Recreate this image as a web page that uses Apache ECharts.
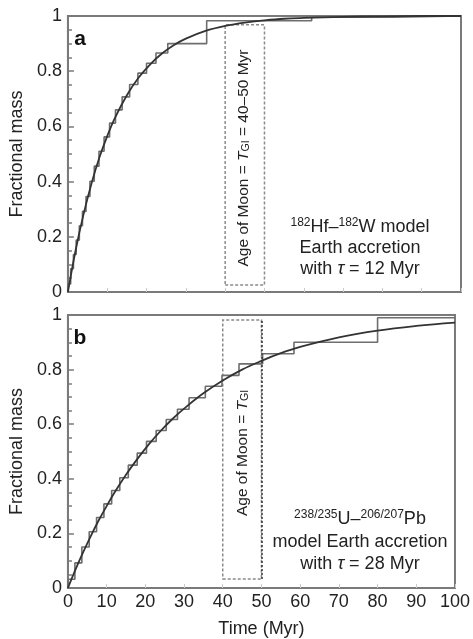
<!DOCTYPE html>
<html><head><meta charset="utf-8">
<script src="https://cdn.jsdelivr.net/npm/echarts@6/dist/echarts.min.js"></script>
<style>html,body{margin:0;padding:0;background:#fff}#c{width:473px;height:639px}</style>
</head><body><div id="c"></div>
<script>
// Smooth accretion curves
const curveTimes = [0, 2, 4, 6, 8, 10, 12, 15, 18, 21, 24, 27, 30, 35, 40, 45, 50, 55, 60, 70, 80, 90, 100];
const curveA = [0, 0.154, 0.283, 0.393, 0.487, 0.565, 0.632, 0.713, 0.777, 0.826, 0.865, 0.895, 0.918, 0.946, 0.964, 0.976, 0.984, 0.990, 0.993, 0.997, 0.999, 1.0, 1.0];
const curveB = [0, 0.069, 0.133, 0.193, 0.249, 0.300, 0.349, 0.415, 0.474, 0.528, 0.576, 0.619, 0.657, 0.713, 0.760, 0.800, 0.832, 0.860, 0.883, 0.918, 0.943, 0.960, 0.972];

// Step (discrete impact) models: jump times and levels after each jump
const stepTimesA = [0, 0, 0.7, 1.4, 2.1, 2.9, 3.7, 4.6, 5.6, 6.7, 7.9, 9.2, 10.6, 12.1, 13.8, 15.7, 17.8, 20.0, 22.4, 25.4, 35.3, 62, 83, 100];
const stepLevelsA = [0, 0.029, 0.084, 0.136, 0.188, 0.240, 0.292, 0.346, 0.401, 0.456, 0.510, 0.562, 0.612, 0.660, 0.707, 0.752, 0.793, 0.829, 0.866, 0.900, 0.983, 0.996, 1.0, 1.0];
const stepTimesB = [0, 0, 1.8, 3.6, 5.5, 7.4, 9.3, 11.3, 13.4, 15.6, 17.9, 20.3, 22.8, 25.4, 28.3, 31.3, 35.5, 39.8, 44.2, 50.3, 58.4, 80, 100];
const stepLevelsB = [0, 0.032, 0.092, 0.150, 0.206, 0.258, 0.308, 0.357, 0.404, 0.450, 0.494, 0.537, 0.577, 0.617, 0.655, 0.697, 0.739, 0.779, 0.821, 0.858, 0.900, 0.990, 0.990];

// Age-of-Moon windows [xmin, xmax, ymin, ymax]
const boxA = [40, 50, 0.025, 0.968];
const boxB = [40, 50, 0.033, 0.982];

const xTicks = [0, 10, 20, 30, 40, 50, 60, 70, 80, 90, 100];

const zip = (a, b) => a.map((v, i) => [v, b[i]]);
const FONT = '"Liberation Sans", Arial, Helvetica, sans-serif';
const AX = '#7a7a7a';

function xAxis(gi, showLabels) {
  return {
    gridIndex: gi, type: 'value', min: 0, max: 100, interval: 10,
    axisLine: { show: true, lineStyle: { color: AX, width: 2 } },
    axisTick: { show: true, inside: true, length: 4, lineStyle: { color: '#ccc' } },
    minorTick: { show: false },
    splitLine: { show: false },
    axisLabel: { show: showLabels, fontFamily: FONT, fontSize: 18, color: '#222', margin: 5,
      formatter: v => xTicks.indexOf(v) >= 0 ? String(v) : '' },
    name: showLabels ? 'Time (Myr)' : '', nameLocation: 'middle', nameGap: 32,
    nameTextStyle: { fontFamily: FONT, fontSize: 18, color: '#222' }
  };
}
function yAxis(gi) {
  return {
    gridIndex: gi, type: 'value', min: 0, max: 1, interval: 0.2,
    axisLine: { show: true, lineStyle: { color: AX, width: 2 } },
    axisTick: { show: true, inside: true, length: 6, lineStyle: { color: AX, width: 1.5 } },
    minorTick: { show: true, splitNumber: 4, length: 4, lineStyle: { color: AX, width: 1.5 } },
    splitLine: { show: false },
    axisLabel: { fontFamily: FONT, fontSize: 18, color: '#222', margin: 6 },
    name: 'Fractional mass', nameLocation: 'middle', nameGap: 35,
    nameTextStyle: { fontFamily: FONT, fontSize: 18, color: '#222' }
  };
}
function box(b) {
  return {
    silent: true,
    itemStyle: { color: 'rgba(0,0,0,0)', borderColor: '#8a8a8a', borderWidth: 1.5, borderType: [3, 2] },
    data: [[{ xAxis: b[0], yAxis: b[2] }, { xAxis: b[1], yAxis: b[3] }]]
  };
}

const rich = {
  sup: { fontFamily: FONT, fontSize: 12, color: '#222', padding: [0, 0, 8, 0] },
  n: { fontFamily: FONT, fontSize: 18, color: '#222' },
  it: { fontFamily: FONT, fontSize: 18, fontStyle: 'italic', color: '#222' },
  vn: { fontFamily: FONT, fontSize: 15.5, color: '#222' },
  vit: { fontFamily: FONT, fontSize: 15.5, fontStyle: 'italic', color: '#222' },
  vsub: { fontFamily: FONT, fontSize: 10.5, color: '#222', padding: [5, 0, 0, 0] }
};
function txt(x, y, text, opts) {
  return Object.assign({ type: 'text', x: x, y: y, style: {
    text: text, rich: rich, align: 'center', verticalAlign: 'middle', fill: '#222', font: '18px ' + FONT } }, opts || {});
}

const chart = echarts.init(document.getElementById('c'), null, { renderer: 'canvas' });
chart.setOption({
  backgroundColor: '#fff',
  animation: false,
  grid: [
    { left: 64, top: 16, width: 397, height: 276, show: true, borderColor: AX, borderWidth: 2 },
    { left: 64, top: 315, width: 394, height: 274, show: true, borderColor: AX, borderWidth: 2 }
  ],
  xAxis: [xAxis(0, false), xAxis(1, true)],
  yAxis: [yAxis(0), yAxis(1)],
  series: [
    { type: 'line', xAxisIndex: 0, yAxisIndex: 0, step: 'end', data: zip(stepTimesA, stepLevelsA),
      showSymbol: false, lineStyle: { color: '#6e6e6e', width: 1.6 }, z: 2, markArea: box(boxA) },
    { type: 'line', xAxisIndex: 0, yAxisIndex: 0, smooth: 0.4, data: zip(curveTimes, curveA),
      showSymbol: false, lineStyle: { color: '#333', width: 1.8 }, z: 3 },
    { type: 'line', xAxisIndex: 1, yAxisIndex: 1, step: 'end', data: zip(stepTimesB, stepLevelsB),
      showSymbol: false, lineStyle: { color: '#6e6e6e', width: 1.6 }, z: 2, markArea: box(boxB),
      markLine: { silent: true, symbol: 'none', label: { show: false },
        lineStyle: { color: '#333', type: [2, 2], width: 1.5 },
        data: [[{ xAxis: boxB[1], yAxis: boxB[2] }, { xAxis: boxB[1], yAxis: boxB[3] }]] } },
    { type: 'line', xAxisIndex: 1, yAxisIndex: 1, smooth: 0.4, data: zip(curveTimes, curveB),
      showSymbol: false, lineStyle: { color: '#333', width: 1.8 }, z: 3 }
  ],
  graphic: [
    txt(80, 39, 'a', { style: { text: 'a', font: 'bold 21px ' + FONT, fill: '#111', align: 'center', verticalAlign: 'middle' } }),
    txt(80, 338, 'b', { style: { text: 'b', font: 'bold 21px ' + FONT, fill: '#111', align: 'center', verticalAlign: 'middle' } }),
    txt(360, 227, '{sup|182}{n|Hf–}{sup|182}{n|W model}'),
    txt(360, 248, '{n|Earth accretion}'),
    txt(360, 269, '{n|with }{it|τ}{n| = 12 Myr}'),
    txt(360, 519, '{sup|238/235}{n|U–}{sup|206/207}{n|Pb}'),
    txt(360, 542, '{n|model Earth accretion}'),
    txt(360, 564, '{n|with }{it|τ}{n| = 28 Myr}'),
    txt(244, 158, '{vn|Age of Moon = }{vit|T}{vsub|GI}{vn| = 40–50 Myr}', { rotation: Math.PI / 2 }),
    txt(243, 453, '{vn|Age of Moon = }{vit|T}{vsub|GI}', { rotation: Math.PI / 2 })
  ]
});
</script></body></html>
